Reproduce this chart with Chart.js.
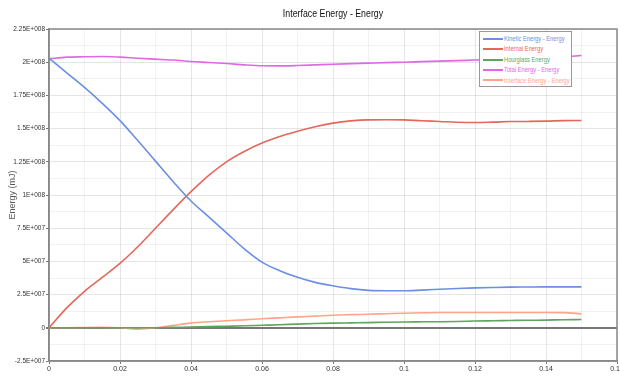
<!DOCTYPE html>
<html lang="en">
<head>
  <meta charset="UTF-8">
  <title>Interface Energy - Energy</title>
  <script src="https://cdn.jsdelivr.net/npm/chart.js"></script>
  <style>
    html, body { margin: 0; padding: 0; background: #fff; overflow: hidden; }
    .wrap { position: relative; width: 620px; height: 384px; font-family: "Liberation Sans", Arial, sans-serif; }
    .title { position: absolute; left: 233px; width: 200px; top: 7px; text-align: center; font-size: 11px; color: #111;
             transform: scaleX(0.8); transform-origin: center; }
    .legend { position: absolute; left: 479px; top: 31px; width: 93px; height: 56px;
              background: #fff; border: 1.5px solid #999; font-size: 8px; padding-top: 2px; box-sizing: border-box; }
    .legend div { height: 10.4px; line-height: 10.4px; white-space: nowrap; }
    .legend span.sw { display: inline-block; width: 20px; height: 2px; vertical-align: middle; margin: 0 1px 0 3px; }
    .legend span.tx { display: inline-block; transform: scaleX(0.72); transform-origin: left center; }
  </style>
</head>
<body>
<div class="wrap">
  <canvas id="chart" width="620" height="384"></canvas>
  <div class="title">Interface Energy - Energy</div>
  <div class="legend" id="legend"></div>
</div>
<script>
// time axis (s)
const time = [0, 0.005, 0.01, 0.015, 0.02, 0.025, 0.03, 0.035, 0.04, 0.045, 0.05,
              0.055, 0.06, 0.065, 0.07, 0.075, 0.08, 0.085, 0.09, 0.095, 0.1,
              0.105, 0.11, 0.115, 0.12, 0.125, 0.13, 0.135, 0.14, 0.145, 0.15];

const kinetic = [2.03e8, 1.92e8, 1.81e8, 1.69e8, 1.56e8, 1.41e8, 1.255e8, 1.10e8, 0.955e8, 0.835e8, 0.715e8,
                 0.595e8, 0.495e8, 0.43e8, 0.38e8, 0.342e8, 0.316e8, 0.295e8, 0.282e8, 0.279e8, 0.279e8,
                 0.284e8, 0.29e8, 0.296e8, 0.301e8, 0.304e8, 0.306e8, 0.307e8, 0.308e8, 0.308e8, 0.308e8];

const internal = [0, 1.5e7, 2.75e7, 3.8e7, 4.85e7, 6.1e7, 7.5e7, 8.9e7, 1.025e8, 1.148e8, 1.25e8,
                  1.328e8, 1.391e8, 1.44e8, 1.48e8, 1.514e8, 1.541e8, 1.558e8, 1.566e8, 1.567e8, 1.566e8,
                  1.559e8, 1.554e8, 1.548e8, 1.546e8, 1.549e8, 1.553e8, 1.554e8, 1.556e8, 1.56e8, 1.561e8];

const hourglass = [0, 0, 0, 0, 0, 0, 0, 0.3e6, 0.6e6, 0.9e6, 1.2e6,
                   1.5e6, 1.9e6, 2.3e6, 2.8e6, 3.2e6, 3.5e6, 3.7e6, 3.9e6, 4.2e6, 4.4e6,
                   4.5e6, 4.6e6, 4.8e6, 5.1e6, 5.3e6, 5.5e6, 5.7e6, 5.8e6, 6.1e6, 6.2e6];

const total = [2.026e8, 2.038e8, 2.041e8, 2.043e8, 2.038e8, 2.03e8, 2.023e8, 2.016e8, 2.005e8, 1.998e8, 1.99e8,
               1.98e8, 1.973e8, 1.972e8, 1.975e8, 1.98e8, 1.985e8, 1.989e8, 1.993e8, 1.997e8, 2.0e8,
               2.004e8, 2.008e8, 2.012e8, 2.016e8, 2.02e8, 2.025e8, 2.03e8, 2.035e8, 2.04e8, 2.05e8];

const iface = [0, 0, 0.2e6, 0.3e6, 0, -1.0e6, 0, 1.8e6, 3.5e6, 4.5e6, 5.3e6,
               6.0e6, 6.8e6, 7.5e6, 8.2e6, 8.8e6, 9.5e6, 9.9e6, 1.02e7, 1.06e7, 1.1e7,
               1.13e7, 1.15e7, 1.15e7, 1.15e7, 1.15e7, 1.15e7, 1.15e7, 1.15e7, 1.14e7, 1.05e7];

const labels = ['Kinetic Energy - Energy', 'Internal Energy', 'Hourglass Energy', 'Total Energy - Energy', 'Interface Energy - Energy'];
const colors = ['#6b8fe3', '#e5675a', '#5fa45f', '#e068e6', '#ffa488'];
const series = [kinetic, internal, hourglass, total, iface];

const FONT = '"Liberation Sans", Arial, sans-serif';

function sci(v) {
  if (Math.abs(v) < 1) return '0';
  const e = Math.floor(Math.log10(Math.abs(v)));
  const m = parseFloat((v / Math.pow(10, e)).toFixed(2));
  return m + 'E+' + String(e).padStart(3, '0');
}

const boxPlugin = {
  id: 'box',
  beforeDatasetsDraw(chart) {
    const a = chart.chartArea, ctx = chart.ctx;
    ctx.save();
    ctx.strokeStyle = '#888';
    ctx.lineWidth = 1.5;
    ctx.strokeRect(a.left, a.top, a.right - a.left, a.bottom - a.top);
    ctx.restore();
  }
};

new Chart(document.getElementById('chart'), {
  type: 'line',
  data: {
    datasets: series.map((s, i) => ({
      label: labels[i],
      data: time.map((t, j) => ({ x: t, y: s[j] })),
      borderColor: colors[i],
      backgroundColor: colors[i],
      borderWidth: 1.6,
      pointRadius: 0,
      cubicInterpolationMode: 'monotone'
    }))
  },
  options: {
    responsive: false,
    animation: false,
    layout: { padding: { top: 29, right: 0, left: 0, bottom: 0 } },
    plugins: {
      legend: { display: false },
      tooltip: { enabled: false },
      title: { display: false }
    },
    scales: {
      x: {
        type: 'linear', min: 0, max: 0.16,
        title: { display: true, text: 'Time (s)', color: '#444', font: { family: FONT, size: 8 }, padding: 0 },
        ticks: {
          stepSize: 0.01, autoSkip: false, maxRotation: 0, padding: 1,
          color: '#333', font: { family: FONT, size: 7 },
          callback: v => (Math.round(v * 100) % 2 === 0) ? String(parseFloat(v.toFixed(2))) : ''
        },
        grid: {
          color: c => (Math.round(c.tick.value * 100) % 2 === 0) ? 'rgba(0,0,0,0.1)' : 'rgba(0,0,0,0.05)',
          tickColor: c => (Math.round(c.tick.value * 100) % 2 === 0) ? '#777' : 'transparent',
          tickLength: 3
        },
        border: { color: '#888', width: 1.5 },
        afterFit(s) { s.height = 23; s.paddingRight = 3; s.paddingLeft = 0; }
      },
      y: {
        min: -2.5e7, max: 2.25e8,
        title: { display: true, text: 'Energy (mJ)', color: '#555', font: { family: FONT, size: 9 }, padding: { top: 7, bottom: 0 } },
        ticks: {
          stepSize: 1.25e7, autoSkip: false, padding: 1,
          color: '#333', font: { family: FONT, size: 6.5 },
          callback: v => (Math.round(v / 1.25e7) % 2 === 0) ? sci(v) : ''
        },
        grid: {
          color: c => c.tick.value === 0 ? '#777' : (Math.round(c.tick.value / 1.25e7) % 2 === 0 ? 'rgba(0,0,0,0.1)' : 'rgba(0,0,0,0.05)'),
          lineWidth: c => c.tick.value === 0 ? 2 : 1,
          tickColor: c => (Math.round(c.tick.value / 1.25e7) % 2 === 0) ? '#777' : 'transparent',
          tickLength: 3
        },
        border: { color: '#888', width: 1.5 },
        afterFit(s) { s.width = 49; }
      }
    }
  },
  plugins: [boxPlugin]
});

// legend box inside the plot area
const leg = document.getElementById('legend');
labels.forEach((l, i) => {
  const row = document.createElement('div');
  row.innerHTML = '<span class="sw" style="background:' + colors[i] + '"></span><span class="tx" style="color:' + colors[i] + '">' + l + '</span>';
  leg.appendChild(row);
});
</script>
</body>
</html>
